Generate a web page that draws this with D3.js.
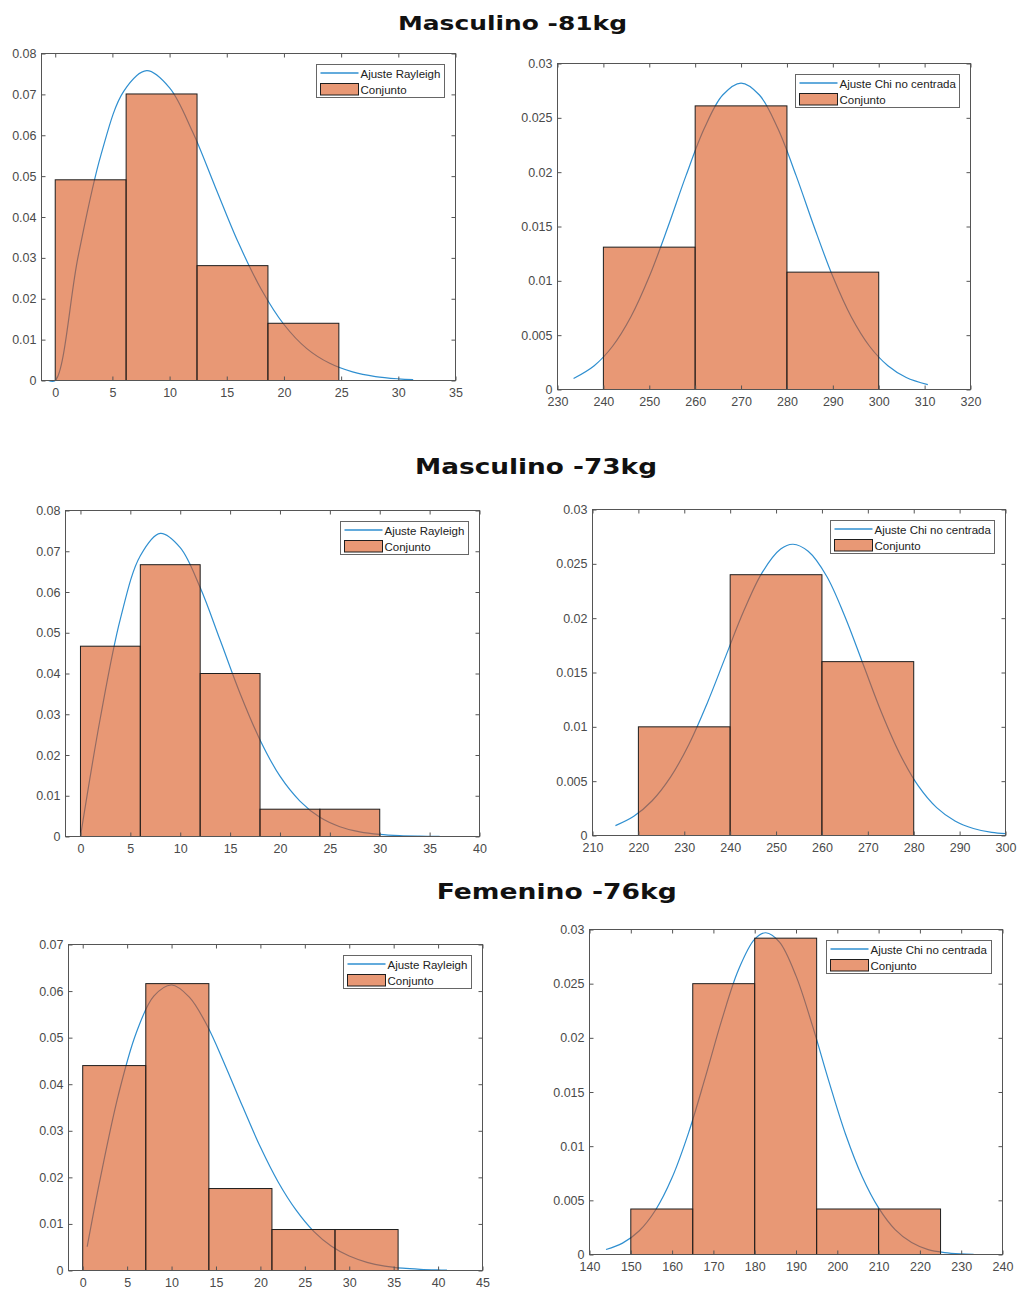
<!DOCTYPE html>
<html>
<head>
<meta charset="utf-8">
<script src="https://cdn.jsdelivr.net/npm/d3@7"></script>
<style>
  html, body { margin: 0; padding: 0; background: #fff; }
  svg { display: block; }
  .tick text { font-family: "Liberation Sans", Arial, sans-serif; font-size: 12.5px; fill: #4a4a4a; }
  .tick line { stroke: #555; }
  .legend text { font-family: "Liberation Sans", Arial, sans-serif; font-size: 11.5px; fill: #222; }
  .title { font-family: "DejaVu Sans", Verdana, sans-serif; font-weight: bold; fill: #111; }
</style>
</head>
<body>
<svg id="chart" width="1017" height="1292"></svg>
<script>
// ---------------- data ----------------
const groupTitles = ["Masculino -81kg", "Masculino -73kg", "Femenino -76kg"];
const legendRayleigh = "Ajuste Rayleigh";
const legendChi = "Ajuste Chi no centrada";
const legendSet = "Conjunto";

// Masculino -81kg — left histogram (normalised) and Rayleigh fit
const m81LeftEdges   = [0, 6.2, 12.4, 18.6, 24.8];
const m81LeftDensity = [0.0491, 0.0701, 0.0281, 0.0140];
const m81LeftFitX = [-0.6, 0, 2, 4, 6, 8, 10, 12, 14, 16, 18, 20, 22, 24, 26, 28, 30, 31.3];
const m81LeftFitY = [0, 0, 0.0303, 0.0552, 0.0708, 0.0758, 0.0716, 0.0609, 0.0473, 0.0338,
                     0.0224, 0.0137, 0.0078, 0.0042, 0.0021, 0.00096, 0.00041, 0.00023];
const m81LeftXTicks = [0, 5, 10, 15, 20, 25, 30, 35];
const m81LeftYTicks = [0, 0.01, 0.02, 0.03, 0.04, 0.05, 0.06, 0.07, 0.08];

// Masculino -81kg — right histogram and non-central chi fit
const m81RightEdges   = [240, 260, 280, 300];
const m81RightDensity = [0.0131, 0.0261, 0.0108];
const m81RightFitX = [233.5, 238, 242, 246, 250, 254, 258, 262, 266, 270, 274, 278, 282, 286,
                      290, 294, 298, 302, 306, 310.7];
const m81RightFitY = [0.00101, 0.00219, 0.00398, 0.00669, 0.01039, 0.01488, 0.01968, 0.02404,
                      0.0271, 0.0282, 0.0271, 0.02404, 0.01968, 0.01488, 0.01039, 0.00669,
                      0.00398, 0.00219, 0.00111, 0.00045];
const m81RightXTicks = [230, 240, 250, 260, 270, 280, 290, 300, 310, 320];
const m81RightYTicks = [0, 0.005, 0.01, 0.015, 0.02, 0.025, 0.03];

// Masculino -73kg — left
const m73LeftEdges   = [0, 6, 12, 18, 24, 30];
const m73LeftDensity = [0.0467, 0.0667, 0.0400, 0.0067, 0.0067];
const m73LeftFitX = [0, 2, 4, 6, 8, 10, 12, 14, 16, 18, 20, 22, 24, 26, 28, 30, 32, 34, 36];
const m73LeftFitY = [0, 0.0292, 0.0534, 0.0689, 0.0744, 0.0709, 0.0611, 0.0482, 0.0351, 0.0237,
                     0.0148, 0.0087, 0.0047, 0.0024, 0.00115, 0.00052, 0.00022, 0.00009, 0.00003];
const m73LeftXTicks = [0, 5, 10, 15, 20, 25, 30, 35, 40];
const m73LeftYTicks = [0, 0.01, 0.02, 0.03, 0.04, 0.05, 0.06, 0.07, 0.08];

// Masculino -73kg — right
const m73RightEdges   = [220, 240, 260, 280];
const m73RightDensity = [0.0100, 0.0240, 0.0160];
const m73RightFitX = [215, 219, 223, 227, 231, 235, 239, 243, 247, 251, 253.7, 257, 261, 265,
                      269, 273, 277, 281, 285, 289, 293, 297, 300];
const m73RightFitY = [0.00091, 0.00177, 0.0032, 0.00537, 0.00838, 0.01218, 0.01646, 0.0207,
                      0.02422, 0.02636, 0.0268, 0.02615, 0.02388, 0.02015, 0.01573, 0.01129,
                      0.00748, 0.00456, 0.00256, 0.00133, 0.00064, 0.00028, 0.00018];
const m73RightXTicks = [210, 220, 230, 240, 250, 260, 270, 280, 290, 300];
const m73RightYTicks = [0, 0.005, 0.01, 0.015, 0.02, 0.025, 0.03];

// Femenino -76kg — left
const f76LeftEdges   = [0, 7.1, 14.2, 21.3, 28.4, 35.5];
const f76LeftDensity = [0.0440, 0.0616, 0.0176, 0.0088, 0.0088];
const f76LeftFitX = [0.5, 2, 4, 6, 8, 10, 12, 14, 16, 18, 20, 22, 24, 26, 28, 30, 32, 34, 36, 38, 40, 41];
const f76LeftFitY = [0.0051, 0.0200, 0.0376, 0.0509, 0.0589, 0.0613, 0.0587, 0.0526, 0.0442,
                     0.0352, 0.0265, 0.0190, 0.0130, 0.0084, 0.0052, 0.0031, 0.00176, 0.00095,
                     0.00049, 0.00025, 0.00012, 0.00008];
const f76LeftXTicks = [0, 5, 10, 15, 20, 25, 30, 35, 40, 45];
const f76LeftYTicks = [0, 0.01, 0.02, 0.03, 0.04, 0.05, 0.06, 0.07];

// Femenino -76kg — right
const f76RightEdges   = [150, 165, 180, 195, 210, 225];
const f76RightDensity = [0.0042, 0.0250, 0.0292, 0.0042, 0.0042];
const f76RightFitX = [144, 148, 152, 156, 160, 164, 168, 172, 176, 180, 182.7, 186, 190, 194,
                      198, 202, 206, 210, 214, 218, 222, 226, 230, 233];
const f76RightFitY = [0.00046, 0.00105, 0.00217, 0.00411, 0.0071, 0.01125, 0.0163, 0.02161,
                      0.02622, 0.02911, 0.0297, 0.02884, 0.02572, 0.0211, 0.01594, 0.0111,
                      0.0072, 0.0043, 0.0023, 0.0011, 0.00045, 0.00018, 0.00006, 0.00002];
const f76RightXTicks = [140, 150, 160, 170, 180, 190, 200, 210, 220, 230, 240];
const f76RightYTicks = [0, 0.005, 0.01, 0.015, 0.02, 0.025, 0.03];

// ---------------- drawing ----------------
const svg = d3.select("#chart");
const BAR_COLOR = "#D95319";
const LINE_COLOR = "#2f8fd0";

const panels = [
  { box: [41, 53, 414, 327],     xDomain: [-1.2, 35], yMax: 0.08,
    edges: m81LeftEdges, density: m81LeftDensity, fitX: m81LeftFitX, fitY: m81LeftFitY,
    xTicks: m81LeftXTicks, yTicks: m81LeftYTicks, fitLabel: legendRayleigh, legendW: 128 },
  { box: [557, 63, 413, 326],    xDomain: [230, 320], yMax: 0.03,
    edges: m81RightEdges, density: m81RightDensity, fitX: m81RightFitX, fitY: m81RightFitY,
    xTicks: m81RightXTicks, yTicks: m81RightYTicks, fitLabel: legendChi, legendW: 164 },
  { box: [65, 510, 414, 326],    xDomain: [-1.5, 40], yMax: 0.08,
    edges: m73LeftEdges, density: m73LeftDensity, fitX: m73LeftFitX, fitY: m73LeftFitY,
    xTicks: m73LeftXTicks, yTicks: m73LeftYTicks, fitLabel: legendRayleigh, legendW: 128 },
  { box: [592, 509, 413, 326],   xDomain: [210, 300], yMax: 0.03,
    edges: m73RightEdges, density: m73RightDensity, fitX: m73RightFitX, fitY: m73RightFitY,
    xTicks: m73RightXTicks, yTicks: m73RightYTicks, fitLabel: legendChi, legendW: 164 },
  { box: [68, 944, 414, 326],    xDomain: [-1.6, 45], yMax: 0.07,
    edges: f76LeftEdges, density: f76LeftDensity, fitX: f76LeftFitX, fitY: f76LeftFitY,
    xTicks: f76LeftXTicks, yTicks: f76LeftYTicks, fitLabel: legendRayleigh, legendW: 128 },
  { box: [589, 929, 413, 325],   xDomain: [140, 240], yMax: 0.03,
    edges: f76RightEdges, density: f76RightDensity, fitX: f76RightFitX, fitY: f76RightFitY,
    xTicks: f76RightXTicks, yTicks: f76RightYTicks, fitLabel: legendChi, legendW: 165 }
];

const titleLayout = [
  { cx: 512.5, y: 30,    size: 19.5, len: 229 },
  { cx: 536,   y: 473.5, size: 20.5, len: 242 },
  { cx: 556.7, y: 899,   size: 21,   len: 240 }
];

titleLayout.forEach((t, i) => {
  svg.append("text")
    .attr("class", "title")
    .attr("x", t.cx - t.len / 2)
    .attr("y", t.y)
    .attr("font-size", t.size)
    .attr("textLength", t.len)
    .attr("lengthAdjust", "spacingAndGlyphs")
    .text(groupTitles[i]);
});

function drawPanel(p) {
  const [left, top, w, h] = p.box;
  const g = svg.append("g").attr("transform", `translate(${left + 0.5},${top + 0.5})`);
  const x = d3.scaleLinear().domain(p.xDomain).range([0, w]);
  const y = d3.scaleLinear().domain([0, p.yMax]).range([h, 0]);

  g.append("rect").attr("width", w).attr("height", h).attr("fill", "#fff");

  // fitted density curve (sits beneath the semi-transparent bars)
  const pts = p.fitX.map((v, i) => [v, p.fitY[i]]);
  g.append("path")
    .datum(pts)
    .attr("fill", "none")
    .attr("stroke", LINE_COLOR)
    .attr("stroke-width", 1.2)
    .attr("d", d3.line().x(d => x(d[0])).y(d => y(Math.max(0, d[1]))).curve(d3.curveCatmullRom.alpha(0.5)));

  // histogram bins
  const bins = p.density.map((d, i) => ({ x0: p.edges[i], x1: p.edges[i + 1], v: d }));
  g.selectAll("rect.bar")
    .data(bins)
    .join("rect")
    .attr("class", "bar")
    .attr("x", d => x(d.x0))
    .attr("width", d => x(d.x1) - x(d.x0))
    .attr("y", d => y(d.v))
    .attr("height", d => y(0) - y(d.v))
    .attr("fill", BAR_COLOR)
    .attr("fill-opacity", 0.6)
    .attr("stroke", "#1e1e1e")
    .attr("stroke-width", 1);

  // axes with inward ticks on all four sides
  const fmt = d => String(d);
  const bottom = g.append("g").attr("transform", `translate(0,${h})`)
    .call(d3.axisBottom(x).tickValues(p.xTicks).tickFormat(fmt).tickSize(-4).tickPadding(8).tickSizeOuter(0));
  const topAx = g.append("g")
    .call(d3.axisTop(x).tickValues(p.xTicks).tickFormat("").tickSize(-4).tickSizeOuter(0));
  const leftAx = g.append("g")
    .call(d3.axisLeft(y).tickValues(p.yTicks).tickFormat(fmt).tickSize(-4).tickPadding(5).tickSizeOuter(0));
  const rightAx = g.append("g").attr("transform", `translate(${w},0)`)
    .call(d3.axisRight(y).tickValues(p.yTicks).tickFormat("").tickSize(-4).tickSizeOuter(0));
  [bottom, topAx, leftAx, rightAx].forEach(a => a.select(".domain").remove());

  g.append("rect")
    .attr("width", w).attr("height", h)
    .attr("fill", "none").attr("stroke", "#555").attr("stroke-width", 1);

  // legend
  const lg = g.append("g").attr("class", "legend")
    .attr("transform", `translate(${w - 11 - p.legendW},11)`);
  lg.append("rect").attr("width", p.legendW).attr("height", 33)
    .attr("fill", "#fff").attr("stroke", "#666").attr("stroke-width", 1);
  lg.append("line").attr("x1", 4).attr("x2", 42).attr("y1", 8.5).attr("y2", 8.5)
    .attr("stroke", LINE_COLOR).attr("stroke-width", 1.5);
  lg.append("rect").attr("x", 4).attr("y", 19).attr("width", 38).attr("height", 11.5)
    .attr("fill", BAR_COLOR).attr("fill-opacity", 0.6).attr("stroke", "#1e1e1e");
  lg.append("text").attr("x", 44).attr("y", 9).attr("dy", "0.35em").text(p.fitLabel);
  lg.append("text").attr("x", 44).attr("y", 25).attr("dy", "0.35em").text(legendSet);
}

panels.forEach(drawPanel);
</script>
</body>
</html>
